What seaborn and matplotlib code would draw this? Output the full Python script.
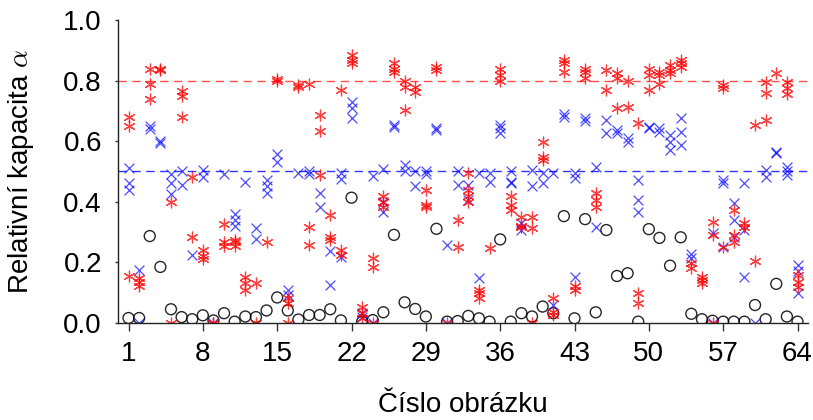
import matplotlib
matplotlib.use("Agg")
import matplotlib.pyplot as plt
import pandas as pd
import seaborn as sns

# Relative capacity per image number (1..64), several runs per image
red_vals = [
    [0.68, 0.65, 0.155], [0.147, 0.135, 0.12], [0.84, 0.79, 0.74], [0.84, 0.835],
    [0.40, 0.0], [0.765, 0.75, 0.68], [0.48, 0.284], [0.24, 0.22, 0.21],
    [0.0, 0.0], [0.326, 0.265, 0.253], [0.273, 0.265, 0.253], [0.152, 0.13, 0.108],
    [0.13, 0.0], [0.265], [0.805, 0.8], [0.08, 0.064, 0.0],
    [0.785, 0.778], [0.79, 0.317, 0.257], [0.686, 0.634, 0.488], [0.356, 0.284, 0.273],
    [0.77, 0.24, 0.224], [0.885, 0.868, 0.857], [0.053, 0.031, 0.015], [0.213, 0.185, 0.0],
    [0.417, 0.4, 0.383], [0.857, 0.84, 0.83], [0.8, 0.778, 0.703], [0.78, 0.764],
    [0.44, 0.39, 0.383], [0.846, 0.835], [0.0], [0.34, 0.25],
    [0.494, 0.44, 0.42, 0.40], [0.108, 0.097, 0.08], [0.246], [0.84, 0.82, 0.8],
    [0.417, 0.39, 0.372], [0.35, 0.32, 0.317], [0.35, 0.312, 0.0], [0.598, 0.549, 0.538],
    [0.08, 0.036, 0.025], [0.868, 0.857, 0.83], [0.12, 0.108], [0.84, 0.83, 0.808],
    [0.427, 0.405, 0.383], [0.835, 0.77], [0.824, 0.808, 0.708], [0.8, 0.714],
    [0.659, 0.097, 0.064], [0.84, 0.82, 0.77], [0.83, 0.82, 0.79], [0.852, 0.835, 0.824],
    [0.868, 0.857, 0.846], [0.196, 0.18], [0.152, 0.141, 0.13], [0.334, 0.29, 0.0],
    [0.786, 0.775, 0.251], [0.372, 0.29, 0.268], [0.328, 0.317], [0.653, 0.202],
    [0.797, 0.758, 0.67], [0.826], [0.797, 0.775, 0.756], [0.158, 0.135, 0.119],
]

blue_vals = [
    [0.51, 0.46, 0.44], [0.175, 0.0], [0.65, 0.64], [0.60, 0.595],
    [0.49, 0.46, 0.425], [0.50, 0.455], [0.224], [0.505, 0.483],
    [0.0], [0.49], [0.36, 0.34, 0.32], [0.466],
    [0.312, 0.275], [0.47, 0.45, 0.43], [0.557, 0.532], [0.108, 0.09],
    [0.494], [0.5, 0.49], [0.43, 0.383], [0.235, 0.125],
    [0.494, 0.474, 0.218], [0.73, 0.708, 0.675], [0.031, 0.02], [0.485, 0.0],
    [0.507, 0.4, 0.367], [0.653, 0.648], [0.52, 0.5], [0.5, 0.452],
    [0.5, 0.49], [0.642, 0.637], [0.257, 0.0], [0.5, 0.455],
    [0.455, 0.405], [0.494, 0.147], [0.494, 0.466], [0.653, 0.642, 0.626],
    [0.5, 0.466, 0.46], [0.328, 0.306], [0.505, 0.45], [0.494, 0.46],
    [0.494, 0.058], [0.69, 0.68], [0.494, 0.477, 0.152], [0.675, 0.668],
    [0.516, 0.317], [0.67, 0.628], [0.637, 0.626], [0.61, 0.598],
    [0.472, 0.405, 0.367], [0.648, 0.642], [0.642, 0.631], [0.62, 0.598, 0.57],
    [0.675, 0.631, 0.587], [0.227, 0.213], [], [0.295, 0.0],
    [0.472, 0.46, 0.251], [0.397, 0.34, 0.284], [0.463, 0.306, 0.152], [0.0],
    [0.505, 0.483], [0.565, 0.56], [0.516, 0.5, 0.488], [0.19, 0.17, 0.097],
]

black_vals = [
    0.015, 0.015, 0.286, 0.184, 0.044, 0.018, 0.011, 0.024, 0.007, 0.031,
    0.003, 0.02, 0.018, 0.04, 0.083, 0.04, 0.01, 0.025, 0.025, 0.044,
    0.007, 0.413, 0.003, 0.008, 0.034, 0.29, 0.067, 0.045, 0.02, 0.31,
    0.003, 0.005, 0.022, 0.014, 0.003, 0.275, 0.003, 0.031, 0.02, 0.053,
    0.031, 0.352, 0.014, 0.342, 0.034, 0.306, 0.154, 0.163, 0.003, 0.309,
    0.28, 0.188, 0.282, 0.029, 0.011, 0.006, 0.003, 0.003, 0.003, 0.058,
    0.011, 0.128, 0.02, 0.003,
]

red_level = 0.8
blue_level = 0.5
x_ticks = [1, 8, 15, 22, 29, 36, 43, 50, 57, 64]


def to_frame(vals):
    rows = [(i + 1, v) for i, vs in enumerate(vals) for v in vs]
    return pd.DataFrame(rows, columns=["img", "alpha"])


df_red = to_frame(red_vals)
df_blue = to_frame(blue_vals)
df_black = pd.DataFrame({"img": range(1, len(black_vals) + 1), "alpha": black_vals})

sns.set_style("ticks")
plt.rcParams["font.family"] = ["Liberation Sans", "DejaVu Sans"]
plt.rcParams["mathtext.fontset"] = "cm"
plt.rcParams["text.color"] = "black"
plt.rcParams["axes.labelcolor"] = "black"
plt.rcParams["xtick.labelcolor"] = "black"
plt.rcParams["ytick.labelcolor"] = "black"

fig = plt.figure(figsize=(8.13, 4.2), dpi=100)
ax = fig.add_axes([0.145, 0.232, 0.849, 0.72])

ax.axhline(red_level, color="red", alpha=0.7, lw=1, dashes=(6, 4), zorder=1)
ax.axhline(blue_level, color="blue", alpha=0.8, lw=1, dashes=(6, 4), zorder=1)

sns.scatterplot(data=df_black, x="img", y="alpha", marker="o", s=62,
                facecolor="none", edgecolor="black", linewidth=1.0, alpha=0.85, ax=ax)
sns.scatterplot(data=df_blue, x="img", y="alpha", marker="x", s=50,
                color="blue", linewidth=0.9, alpha=0.7, ax=ax)
sns.scatterplot(data=df_red, x="img", y="alpha", marker=(6, 2, 0), s=60,
                color="red", linewidth=0.9, alpha=0.75, ax=ax)

ax.set_xlim(0, 65)
ax.set_ylim(0, 1.0)
ax.set_xticks(x_ticks)
ax.set_yticks([0.0, 0.2, 0.4, 0.6, 0.8, 1.0])
ax.set_yticklabels(["0.0", "0.2", "0.4", "0.6", "0.8", "1.0"])
ax.tick_params(axis="x", labelsize=20, length=5.5, width=1, pad=8,
               color="#333333", labelcolor="black")
ax.tick_params(axis="y", labelsize=20, length=2.5, width=1, pad=9,
               color="#333333", labelcolor="black")

ax.set_xlabel("Číslo obrázku", fontsize=20, labelpad=18, color="black")
ax.set_ylabel(r"Relativní kapacita $\alpha$", fontsize=20, labelpad=20, color="black")

sns.despine(ax=ax)
for side in ["left", "bottom"]:
    ax.spines[side].set_linewidth(1)
    ax.spines[side].set_color("#222222")

fig.savefig("out.png", dpi=100)
